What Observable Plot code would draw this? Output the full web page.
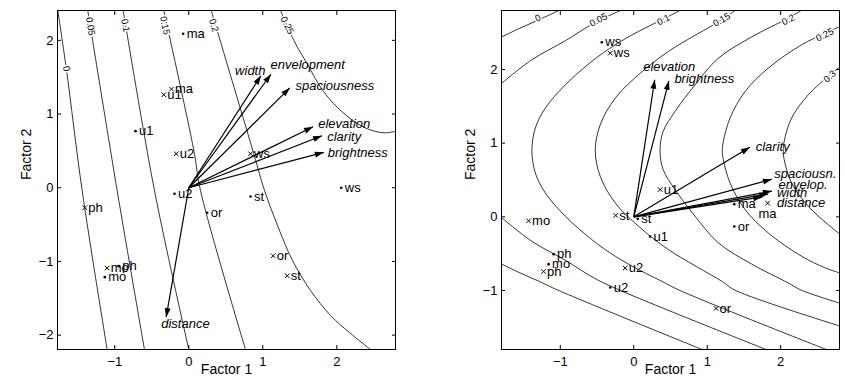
<!DOCTYPE html>
<html><head><meta charset="utf-8">
<script src="https://cdn.jsdelivr.net/npm/d3@7"></script>
<script src="https://cdn.jsdelivr.net/npm/@observablehq/plot@0.6"></script>
<style>
body{margin:0;background:#fff;}
#wrap{display:flex;width:845px;height:380px;overflow:hidden;}
</style></head><body><div id="wrap"></div>
<script>
// ---------- axes ----------
const xTicks = [-1, 0, 1, 2];
const leftYTicks = [-2, -1, 0, 1, 2];
const rightYTicks = [-1, 0, 1, 2];
const leftXDomain = [-1.774, 2.793];
const leftYDomain = [-2.195, 2.405];
const rightXDomain = [-1.8, 2.8];
const rightYDomain = [-1.8, 2.8];
const xLabel = "Factor 1";
const yLabel = "Factor 2";

// ---------- left panel: contour lines ----------
const leftContourIds = ["0", "0.05", "0.1", "0.15", "0.2", "0.25"];
const leftContourPaths = [
  [[-1.770, 2.405], [-1.655, 1.615], [-1.441, -0.037], [-1.103, -2.195]],
  [[-1.365, 2.405], [-0.968, -0.037], [-0.599, -2.195]],
  [[-0.886, 2.405], [-0.464, -0.037], [0.0, -2.195]],
  [[-0.338, 2.405], [0.068, 0.506], [0.158, -0.037], [0.766, -2.195]],
  [[0.303, 2.405], [0.878, 0.461], [1.023, -0.037], [1.199, -0.512], [1.401, -0.987], [1.645, -1.394], [1.915, -1.733], [2.185, -1.977], [2.455, -2.195]],
  [[1.239, 2.405], [1.419, 1.999], [1.599, 1.682], [1.78, 1.365], [1.959, 1.14], [2.185, 0.936], [2.411, 0.8], [2.635, 0.746], [2.793, 0.764]]
];
const leftContourLabelText = ["0", "0.05", "0.1", "0.15", "0.2", "0.25"];
const leftContourLabelX = [-1.655, -1.328, -0.855, -0.324, 0.338, 1.33];
const leftContourLabelY = [1.615, 2.189, 2.202, 2.202, 2.202, 2.202];
const leftContourLabelAngle = [82, 81, 80, 78, 73, 63];

// ---------- left panel: stimuli ----------
const leftPointNames = ["ma", "ma", "u1", "u1", "u2", "ws", "ws", "u2", "st", "ph", "or", "or", "st", "mo", "ph", "mo"];
const leftPointSymbol = ["dot", "x", "x", "dot", "x", "x", "dot", "dot", "dot", "x", "dot", "x", "x", "x", "dot", "dot"];
const leftPointX = [-0.076, -0.234, -0.338, -0.72, -0.17, 0.834, 2.06, -0.193, 0.834, -1.405, 0.249, 1.14, 1.33, -1.103, -0.946, -1.135];
const leftPointY = [2.09, 1.338, 1.262, 0.768, 0.461, 0.461, 0.0, -0.081, -0.118, -0.271, -0.34, -0.923, -1.194, -1.09, -1.064, -1.213];

// ---------- left panel: attribute vectors ----------
const leftArrowNames = ["width", "envelopment", "spaciousness", "elevation", "clarity", "brightness", "distance"];
const leftArrowX = [0.975, 1.11, 1.365, 1.68, 1.80, 1.825, -0.306];
const leftArrowY = [1.52, 1.54, 1.355, 0.828, 0.705, 0.48, -1.756];
const leftArrowLabelX = [1.036, 1.104, 1.442, 1.749, 1.87, 1.878, -0.373];
const leftArrowLabelY = [1.582, 1.673, 1.379, 0.868, 0.696, 0.475, -1.845];
const leftArrowLabelAnchor = ["end", "start", "start", "start", "start", "start", "start"];

// ---------- right panel: contour lines ----------
const rightContourIds = ["0a", "0b", "0.05a", "0.05b", "0.1", "0.15", "0.2", "0.25", "0.3"];
const rightContourPaths = [
  [[-1.80, 2.44], [-1.55, 2.56], [-1.30, 2.67], [-1.02, 2.80]],
  [[-1.80, -0.64], [-1.55, -0.76], [-1.30, -0.87], [-1.02, -1.0], [0.93, -1.8]],
  [[-1.80, 1.81], [-1.39, 2.13], [-0.93, 2.39], [-0.54, 2.63], [-0.18, 2.80]],
  [[-1.80, -0.01], [-1.39, -0.33], [-0.93, -0.59], [-0.54, -0.83], [-0.18, -1.0], [1.80, -1.8]],
  [[0.63, 2.80], [0.38, 2.673], [0.064, 2.516], [-0.253, 2.334], [-0.571, 2.109], [-0.932, 1.791], [-1.204, 1.475], [-1.34, 1.204], [-1.386, 0.90], [-1.34, 0.596], [-1.204, 0.325], [-0.932, 0.009], [-0.571, -0.309], [-0.253, -0.534], [0.064, -0.716], [0.38, -0.873], [0.63, -1.0], [2.62, -1.8]],
  [[1.378, 2.80], [1.196, 2.673], [0.471, 2.244], [0.064, 1.927], [-0.253, 1.61], [-0.457, 1.248], [-0.524, 0.90], [-0.457, 0.552], [-0.253, 0.19], [0.064, -0.127], [0.471, -0.444], [1.196, -0.873], [1.378, -0.995], [2.80, -1.48]],
  [[2.28, 2.80], [2.10, 2.696], [1.603, 2.44], [1.151, 2.153], [0.834, 1.791], [0.562, 1.43], [0.40, 1.159], [0.358, 0.90], [0.40, 0.641], [0.562, 0.37], [0.834, 0.009], [1.151, -0.353], [1.603, -0.64], [2.10, -0.896], [2.28, -0.995], [2.80, -1.17]],
  [[2.80, 2.58], [2.60, 2.49], [2.283, 2.334], [1.83, 2.018], [1.514, 1.70], [1.31, 1.34], [1.219, 1.023], [1.205, 0.90], [1.219, 0.777], [1.31, 0.46], [1.514, 0.10], [1.83, -0.218], [2.283, -0.534], [2.60, -0.69], [2.80, -0.76]],
  [[2.80, 2.03], [2.645, 1.905], [2.374, 1.655], [2.147, 1.339], [2.047, 1.023], [2.034, 0.90], [2.047, 0.777], [2.147, 0.461], [2.374, 0.145], [2.645, -0.105], [2.80, -0.23]]
];
const rightContourLabelText = ["0", "0.05", "0.1", "0.15", "0.2", "0.25", "0.3"];
const rightContourLabelX = [-1.304, -0.48, 0.404, 1.196, 2.102, 2.60, 2.668];
const rightContourLabelY = [2.696, 2.673, 2.673, 2.673, 2.673, 2.47, 1.905];
const rightContourLabelAngle = [-24, -28, -27, -30, -27, -28, -42];

// ---------- right panel: stimuli ----------
const rightPointNames = ["ws", "ws", "mo", "ph", "mo", "ph", "st", "st", "u1", "u1", "u2", "u2", "ma", "ma", "or", "or"];
const rightPointSymbol = ["dot", "x", "x", "dot", "dot", "x", "x", "dot", "dot", "x", "x", "dot", "dot", "x", "dot", "x"];
const rightPointX = [-0.435, -0.32, -1.431, -1.091, -1.159, -1.227, -0.245, 0.054, 0.222, 0.36, -0.117, -0.32, 1.368, 1.821, 1.368, 1.12];
const rightPointY = [2.37, 2.221, -0.054, -0.506, -0.642, -0.741, 0.019, -0.027, -0.266, 0.37, -0.696, -0.958, 0.172, 0.186, -0.13, -1.243];
const rightPointLabelSide = ["right", "right", "right", "right", "right", "right", "right", "right", "right", "right", "right", "right", "right", "below", "right", "right"];

// ---------- right panel: attribute vectors ----------
const rightArrowNames = ["elevation", "brightness", "clarity", "spaciousn.", "envelop.", "width", "distance"];
const rightArrowX = [0.285, 0.478, 1.58, 1.88, 1.88, 1.83, 1.75];
const rightArrowY = [1.86, 1.845, 0.945, 0.51, 0.35, 0.31, 0.27];
const rightArrowLabelX = [0.128, 0.553, 1.66, 1.912, 1.97, 1.948, 1.948];
const rightArrowLabelY = [2.035, 1.868, 0.952, 0.589, 0.43, 0.326, 0.19];

// ---------- build ----------
const FONT = "'Liberation Sans', Arial, Helvetica, sans-serif";
const tickFmt = d3.format("d");

function headMarker(color) {
  const ns = "http://www.w3.org/2000/svg";
  const m = document.createElementNS(ns, "marker");
  m.setAttribute("viewBox", "-10 -5 10 10");
  m.setAttribute("markerWidth", "10");
  m.setAttribute("markerHeight", "10");
  m.setAttribute("markerUnits", "userSpaceOnUse");
  m.setAttribute("orient", "auto");
  m.setAttribute("refX", "0");
  m.setAttribute("refY", "0");
  const p = document.createElementNS(ns, "path");
  p.setAttribute("d", "M-9,-3L0,0L-9,3Z");
  p.setAttribute("fill", color);
  p.setAttribute("stroke", "none");
  m.appendChild(p);
  return m;
}

function contourRows(ids, paths) {
  return paths.flatMap((pts, i) => pts.map(([x, y]) => ({id: ids[i], x, y})));
}
function labelRows(text, xs, ys, angles) {
  return text.map((t, i) => ({text: t, x: xs[i], y: ys[i], rotate: angles[i]}));
}
function pointRows(names, sym, xs, ys, side) {
  return names.map((n, i) => ({name: n, sym: sym[i], x: xs[i], y: ys[i], side: side ? side[i] : "right"}));
}
function arrowRows(names, xs, ys, lxs, lys, anchors) {
  return names.map((n, i) => ({name: n, x0: 0, y0: 0, x: xs[i], y: ys[i], lx: lxs[i], ly: lys[i], anchor: anchors ? anchors[i] : "start"}));
}

function panel(cfg) {
  const pts = cfg.points;
  const arr = cfg.arrows;
  return Plot.plot({
    width: cfg.width, height: 380,
    marginLeft: cfg.marginLeft, marginRight: cfg.marginRight, marginTop: 10, marginBottom: 31,
    x: {domain: cfg.xDomain},
    y: {domain: cfg.yDomain},
    style: {fontFamily: FONT, fontSize: "13px", color: "black", background: "white", overflow: "visible"},
    marks: [
      Plot.line(cfg.contours, {x: "x", y: "y", z: "id", curve: "catmull-rom", stroke: "black", strokeWidth: 0.8, clip: true}),
      Plot.text(cfg.clabels, {x: "x", y: "y", text: "text", rotate: "rotate", fontSize: 9.5, fill: "black", stroke: "white", strokeWidth: 3}),
      Plot.link(arr, {x1: "x0", y1: "y0", x2: "x", y2: "y", stroke: "black", strokeWidth: 1.2, markerEnd: headMarker}),
      Plot.text(arr.filter(d => d.anchor === "start"), {x: "lx", y: "ly", text: "name", textAnchor: "start", fontStyle: "italic", fontSize: 13}),
      Plot.text(arr.filter(d => d.anchor === "end"), {x: "lx", y: "ly", text: "name", textAnchor: "end", fontStyle: "italic", fontSize: 13}),
      Plot.dot(pts.filter(d => d.sym === "x"), {x: "x", y: "y", symbol: "times", r: 2.2, stroke: "black", strokeWidth: 1}),
      Plot.dot(pts.filter(d => d.sym === "dot"), {x: "x", y: "y", r: 1.3, fill: "black", stroke: "none"}),
      Plot.text(pts.filter(d => d.side === "right"), {x: "x", y: "y", text: "name", textAnchor: "start", dx: 3.5, fontSize: 13}),
      Plot.text(pts.filter(d => d.side === "below"), {x: "x", y: "y", text: "name", textAnchor: "middle", dy: 11, fontSize: 13}),
      Plot.frame({stroke: "black", strokeWidth: 1}),
      Plot.axisX({ticks: xTicks, tickFormat: tickFmt, anchor: "bottom", tickSize: -4, tickPadding: 11, fontSize: 13, label: null}),
      Plot.axisX({ticks: xTicks, anchor: "top", tickSize: -4, tickFormat: () => "", label: null}),
      Plot.axisY({ticks: cfg.yTicks, tickFormat: tickFmt, anchor: "left", tickSize: -4, tickPadding: 8, fontSize: 13, label: null}),
      Plot.axisY({ticks: cfg.yTicks, anchor: "right", tickSize: -4, tickFormat: () => "", label: null}),
      Plot.text([xLabel], {text: d => d, frameAnchor: "bottom", dy: 24, fontSize: 14}),
      Plot.text([yLabel], {text: d => d, frameAnchor: "left", rotate: -90, dx: -31, fontSize: 14})
    ]
  });
}

const wrap = document.getElementById("wrap");
wrap.appendChild(panel({
  width: 420, marginLeft: 57, marginRight: 25,
  xDomain: leftXDomain, yDomain: leftYDomain, yTicks: leftYTicks,
  contours: contourRows(leftContourIds, leftContourPaths),
  clabels: labelRows(leftContourLabelText, leftContourLabelX, leftContourLabelY, leftContourLabelAngle),
  points: pointRows(leftPointNames, leftPointSymbol, leftPointX, leftPointY, null),
  arrows: arrowRows(leftArrowNames, leftArrowX, leftArrowY, leftArrowLabelX, leftArrowLabelY, leftArrowLabelAnchor)
}));
wrap.appendChild(panel({
  width: 425, marginLeft: 81, marginRight: 6,
  xDomain: rightXDomain, yDomain: rightYDomain, yTicks: rightYTicks,
  contours: contourRows(rightContourIds, rightContourPaths),
  clabels: labelRows(rightContourLabelText, rightContourLabelX, rightContourLabelY, rightContourLabelAngle),
  points: pointRows(rightPointNames, rightPointSymbol, rightPointX, rightPointY, rightPointLabelSide),
  arrows: arrowRows(rightArrowNames, rightArrowX, rightArrowY, rightArrowLabelX, rightArrowLabelY, null)
}));
</script>
</body></html>
